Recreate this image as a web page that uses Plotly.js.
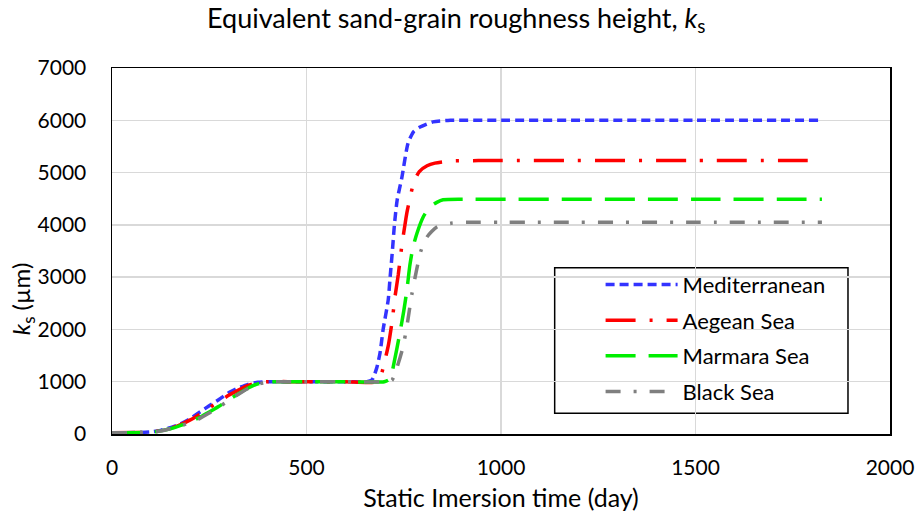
<!DOCTYPE html>
<html>
<head>
<meta charset="utf-8">
<script src="https://cdn.plot.ly/plotly-3.0.1.min.js"></script>
<style>
  html, body { margin: 0; padding: 0; background: #fff; }
  #chart { width: 918px; height: 523px; }
</style>
</head>
<body>
<div id="chart"></div>
<script>
// Immersion time (days) and equivalent sand-grain roughness k_s (µm) per sea
const medDays = [0, 60, 100, 125, 150, 175, 200, 226, 250, 275, 300, 325, 350, 375, 400, 500, 600, 655,
  668, 680, 689, 697, 710, 715, 721, 726, 733, 745, 761, 775, 792, 825, 870, 1000, 1500, 1825];
const medKs = [25, 28, 40, 70, 120, 190, 290, 420, 540, 660, 790, 880, 950, 990, 1000, 1000, 1000, 1000,
  1030, 1250, 1550, 2000, 2560, 3000, 3520, 4000, 4470, 4900, 5560, 5780, 5870, 5970, 6000, 6000, 6000, 6000];

const aegDays = [0, 60, 100, 125, 150, 175, 200, 226, 250, 275, 300, 325, 350, 375, 400, 500, 600, 680,
  691, 702, 711, 720, 728, 736, 745, 752, 758, 766, 776, 790, 810, 830, 870, 1000, 1500, 1825];
const aegKs = [25, 27, 38, 65, 110, 175, 265, 380, 500, 620, 740, 840, 930, 985, 1000, 1000, 1000, 1000,
  1110, 1420, 1720, 2150, 2650, 3050, 3600, 3950, 4230, 4510, 4820, 5020, 5130, 5180, 5220, 5230, 5230, 5230];

const marDays = [0, 60, 100, 125, 150, 175, 200, 226, 250, 275, 300, 325, 350, 375, 400, 420, 500, 600, 700,
  712, 718, 725, 740, 750, 758, 766, 774, 784, 800, 817, 835, 851, 900, 1000, 1500, 1825];
const marKs = [25, 26, 35, 60, 100, 160, 230, 320, 420, 530, 650, 770, 880, 960, 995, 1000, 1000, 1000, 1000,
  1040, 1120, 1360, 1930, 2350, 2750, 3240, 3580, 3840, 4150, 4340, 4430, 4480, 4490, 4490, 4490, 4490];

const blkDays = [0, 60, 100, 125, 150, 175, 200, 226, 250, 275, 300, 325, 350, 375, 400, 420, 500, 600, 712,
  720, 733, 748, 760, 771, 782, 794, 810, 835, 871, 920, 1000, 1500, 1825];
const blkKs = [25, 26, 33, 58, 100, 150, 220, 300, 400, 515, 640, 760, 870, 955, 990, 1000, 1000, 1000, 1000,
  1030, 1280, 1660, 2150, 2680, 3100, 3500, 3770, 3960, 4030, 4050, 4050, 4050, 4050];

const seriesNames = ['Mediterranean', 'Aegean Sea', 'Marmara Sea', 'Black Sea'];
const seriesColors = ['#3333ff', '#ff0000', '#00ee00', '#7f7f7f'];
const seriesDash = ['9px,5px', '30px,14px,3px,14px', '30px,13px', '15px,13px,3px,13px'];
const xTicks = [0, 500, 1000, 1500, 2000];
const yTicks = [0, 1000, 2000, 3000, 4000, 5000, 6000, 7000];

const FONT = 'Lato, "Open Sans", sans-serif';
const xs = [medDays, aegDays, marDays, blkDays];
const ys = [medKs, aegKs, marKs, blkKs];

const traces = seriesNames.map((name, i) => ({
  type: 'scatter',
  mode: 'lines',
  name: name,
  x: xs[i],
  y: ys[i],
  legendgroup: 'g' + i,
  line: { color: seriesColors[i], width: 3.5, dash: seriesDash[i], shape: 'spline', smoothing: 0.6 },
  hoverinfo: 'x+y+name'
}));

const layout = {
  width: 918,
  height: 523,
  margin: { l: 112, r: 28, t: 68, b: 89 },
  paper_bgcolor: '#ffffff',
  plot_bgcolor: '#ffffff',
  font: { family: FONT, size: 21, color: '#000' },
  title: {
    text: 'Equivalent sand-grain roughness height, <i>k</i><sub>s</sub>',
    font: { family: FONT, size: 27, color: '#000' },
    xref: 'container', x: 0.497, xanchor: 'center',
    yref: 'container', y: 0.965, yanchor: 'middle'
  },
  xaxis: {
    range: [0, 2000],
    tickvals: xTicks,
    ticktext: xTicks.map(String),
    showgrid: true, gridcolor: '#d9d9d9', gridwidth: 1.5,
    zeroline: false,
    showline: true, linecolor: '#000', linewidth: 1.5, mirror: true,
    ticks: '', ticklabelstandoff: 14,
    tickfont: { family: FONT, size: 21, color: '#000' },
    title: { text: 'Static Imersion time (day)', font: { family: FONT, size: 25, color: '#000' }, standoff: 12 }
  },
  yaxis: {
    range: [0, 7000],
    tickvals: yTicks,
    ticktext: yTicks.map(String),
    showgrid: true, gridcolor: '#d9d9d9', gridwidth: 1.5,
    zeroline: false,
    showline: true, linecolor: '#000', linewidth: 1.5, mirror: true,
    ticks: '', ticklabelstandoff: 20,
    tickfont: { family: FONT, size: 21, color: '#000' }
  },
  // y-axis label sits a little below the middle of the axis
  annotations: [{
    text: '<i>k</i><sub>s</sub> (µm)',
    xref: 'paper', yref: 'paper',
    x: -0.114, y: 0.369,
    xanchor: 'center', yanchor: 'middle',
    textangle: -90, showarrow: false,
    font: { family: FONT, size: 24, color: '#000' }
  }],
  showlegend: true,
  legend: {
    x: 0.628, xanchor: 'left',
    y: 0.465, yanchor: 'top',
    bgcolor: 'rgba(0,0,0,0)',
    borderwidth: 0,
    itemwidth: 72,
    tracegroupgap: 4,
    font: { family: FONT, size: 22, color: '#000' }
  },
  shapes: [{
    type: 'rect', xref: 'paper', yref: 'paper',
    x0: 0.569, x1: 0.946, y0: 0.057, y1: 0.454,
    line: { color: '#000', width: 1.5 }, fillcolor: '#ffffff', layer: 'below'
  }]
};

Plotly.newPlot('chart', traces, layout, { displayModeBar: false, staticPlot: true });
</script>
</body>
</html>
